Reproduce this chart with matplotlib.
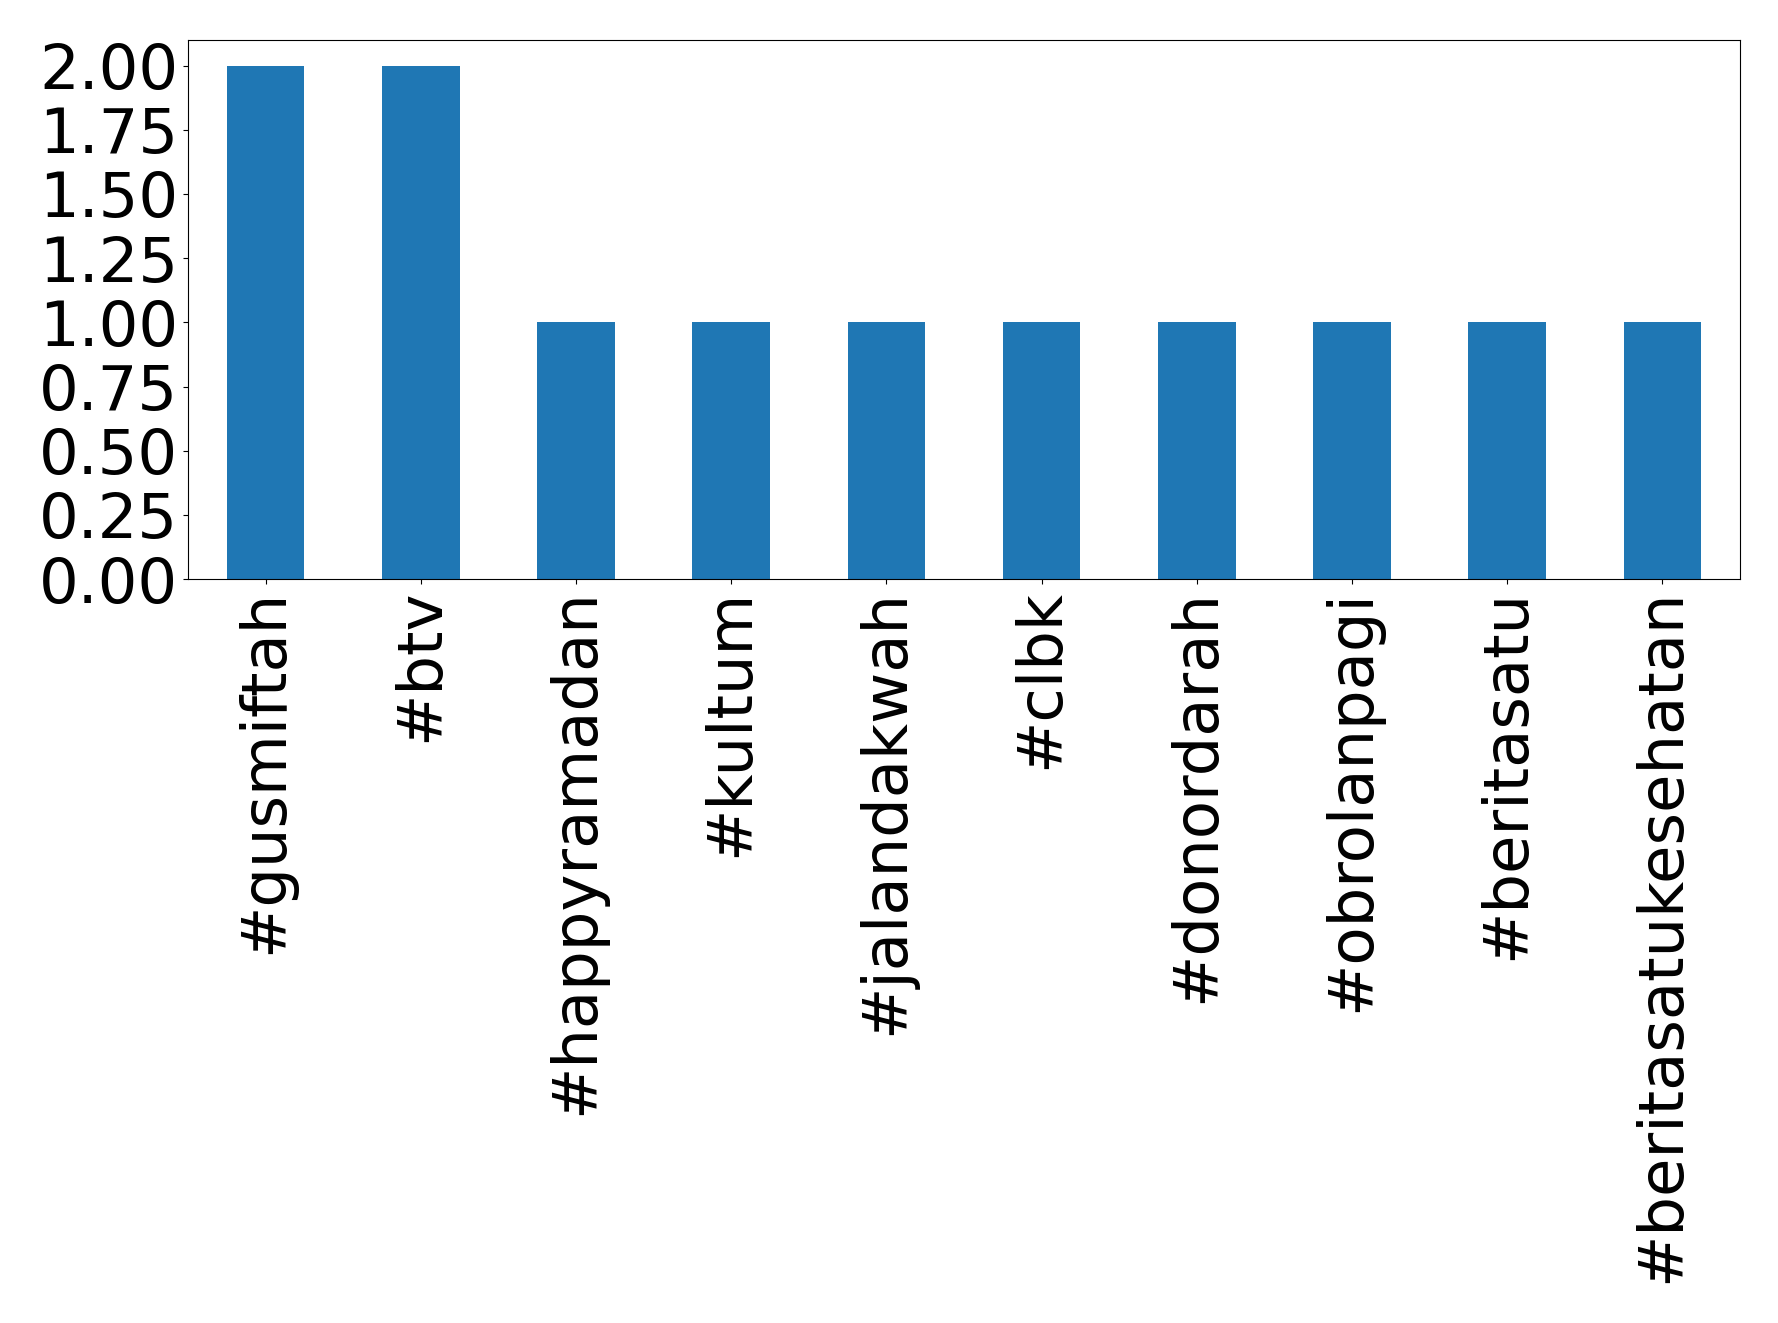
import matplotlib
matplotlib.use("Agg")
import matplotlib.pyplot as plt

tags = ["#gusmiftah", "#btv", "#happyramadan", "#kultum", "#jalandakwah",
        "#clbk", "#donordarah", "#obrolanpagi", "#beritasatu", "#beritasatukesehatan"]
counts = [2, 2, 1, 1, 1, 1, 1, 1, 1, 1]

fig = plt.figure(figsize=(17.78, 13.23), dpi=100)
ax = fig.add_axes([188/1778, 1 - 579/1323, (1740-188)/1778, (579-40)/1323])
x = range(len(tags))
ax.bar(x, counts, width=0.5, color="#1f77b4")
ax.set_xlim(-0.5, len(tags) - 0.5)
ax.set_ylim(0, 2.1)
ax.set_yticks([0, 0.25, 0.5, 0.75, 1.0, 1.25, 1.5, 1.75, 2.0])
ax.set_yticklabels(["0.00", "0.25", "0.50", "0.75", "1.00", "1.25", "1.50", "1.75", "2.00"])
ax.set_xticks(list(x))
ax.set_xticklabels(tags, rotation=90)
ax.tick_params(labelsize=45)
fig.savefig("out.png", dpi=100)
